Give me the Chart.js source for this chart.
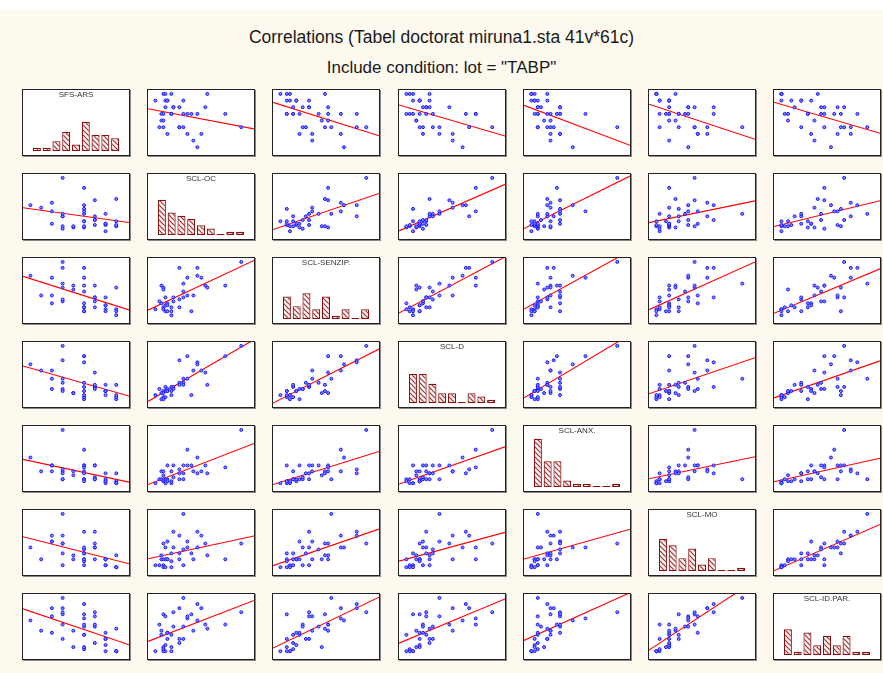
<!DOCTYPE html>
<html>
<head>
<meta charset="utf-8">
<script src="https://cdn.jsdelivr.net/npm/chart.js@4.4.0/dist/chart.umd.min.js"></script>
<style>
  body { margin: 0; width: 883px; height: 673px; overflow: hidden; position: relative;
         background: #fdf9ee; font-family: "Liberation Sans", Arial, sans-serif; }
  #topStrip { position: absolute; left: 0; top: 0; width: 883px; height: 10px; background: #fff; }
  .title { position: absolute; left: 0; width: 883px; text-align: center; font-size: 17px; color: #1a1a1a; }
  .cell { position: absolute; width: 106px; height: 65px; border: 1px solid #222;
          box-shadow: 1px 1px 0 #888; background: #fff; }
  .cell canvas { display: block; }
</style>
</head>
<body>
<div id="topStrip"></div>
<div class="title" style="top:27px; font-size:17.5px">Correlations (Tabel doctorat miruna1.sta 41v*61c)</div>
<div class="title" style="top:58px">Include condition: lot = "TABP"</div>
<div id="grid"></div>
<script>
// variable names, in matrix order
const varNames = ["SFS-ARS", "SCL-OC", "SCL-SENZIP.", "SCL-D", "SCL-ANX.", "SCL-MO", "SCL-ID.PAR."];

// raw scores for the 36 cases (lot = TABP)
const sfsArs    = [8,4,5,6,4,5,6,9,7,8,9,3,8,8,6,6,9,7,7,4,4,7,4,6,8,6,3,6,2,6,1,3,7,9,6,4];
const sclOc     = [0,2,3,3,4,4,4,4,5,5,5,6,6,6,8,8,8,9,9,12,12,12,14,14,14,16,16,18,19,21,21,23,25,26,35,43];
const sclSenzip = [3,7,15,6,14,13,4,3,9,5,2,6,5,2,4,2,0,9,7,24,8,4,16,12,9,19,10,2,10,24,20,19,15,14,15,27];
const sclD      = [2,5,3,0,4,3,1,0,6,4,1,5,4,4,6,4,2,6,5,19,8,7,10,8,7,21,10,2,14,18,17,14,13,7,21,26];
const sclAnx    = [0,2,6,2,6,4,2,1,2,1,0,9,2,1,6,1,0,9,3,7,5,2,2,9,5,17,9,9,6,5,13,6,9,5,8,27];
const sclMo     = [1,1,6,4,12,4,1,0,10,4,0,13,4,4,7,3,0,18,10,16,7,4,27,9,1,10,13,7,4,18,10,16,12,6,4,12];
const sclIdPar  = [0,13,10,8,18,2,1,0,17,3,0,9,9,6,8,2,0,19,12,21,6,4,26,12,6,16,17,18,10,23,15,21,13,11,13,19];

// histogram counts on the diagonal (9 bins each)
const binLabels     = ["1","2","3","4","5","6","7","8","9"];
const histSfsArs    = [1,1,3,6,2,9,5,5,4];
const histSclOc     = [11,7,6,5,3,2,0,1,1];
const histSclSenzip = [7,4,8,3,7,1,3,0,3];
const histSclD      = [9,9,6,3,3,0,3,2,1];
const histSclAnx    = [15,8,8,2,1,1,0,0,1];
const histSclMo     = [10,8,4,7,2,4,0,0,1];
const histSclIdPar  = [8,1,7,3,6,3,6,1,1];

const variables = [sfsArs, sclOc, sclSenzip, sclD, sclAnx, sclMo, sclIdPar];
const histograms = [histSfsArs, histSclOc, histSclSenzip, histSclD, histSclAnx, histSclMo, histSclIdPar];

function xRange(v) {
  const mn = Math.min(...v), mx = Math.max(...v), s = mx - mn;
  return [mn - s * 0.07 / 0.81, mx + s * 0.12 / 0.81];
}
function yRange(v) {
  const mn = Math.min(...v), mx = Math.max(...v), s = mx - mn;
  return [mn - s * 0.12 / 0.82, mx + s * 0.06 / 0.82];
}

// least squares y = a + b*x
function fitLine(xs, ys) {
  const n = xs.length;
  const mx = xs.reduce((a, b) => a + b, 0) / n;
  const my = ys.reduce((a, b) => a + b, 0) / n;
  let sxy = 0, sxx = 0;
  for (let i = 0; i < n; i++) { sxy += (xs[i] - mx) * (ys[i] - my); sxx += (xs[i] - mx) ** 2; }
  const b = sxy / sxx;
  return { a: my - b * mx, b: b };
}

// diagonal hatch for the histogram bars
function makeHatch() {
  const c = document.createElement('canvas');
  c.width = 5; c.height = 5;
  const g = c.getContext('2d');
  g.fillStyle = '#fff8f8';
  g.fillRect(0, 0, 5, 5);
  g.strokeStyle = '#a03030';
  g.lineWidth = 1.2;
  g.beginPath();
  g.moveTo(-1, -1); g.lineTo(6, 6);
  g.moveTo(-1, 4); g.lineTo(1, 6);
  g.moveTo(4, -1); g.lineTo(6, 1);
  g.stroke();
  return g.createPattern(c, 'repeat');
}
const hatch = makeHatch();

const nameLabel = {
  id: 'nameLabel',
  afterDraw(chart, args, opts) {
    const ctx = chart.ctx;
    ctx.save();
    ctx.font = '8px "Liberation Sans", Arial, sans-serif';
    ctx.fillStyle = '#333';
    ctx.textAlign = 'center';
    ctx.textBaseline = 'top';
    ctx.fillText(opts.text, chart.width / 2, 1);
    ctx.restore();
  }
};

Chart.defaults.font.family = '"Liberation Sans", Arial, sans-serif';

const grid = document.getElementById('grid');
const n = variables.length;

for (let r = 0; r < n; r++) {
  for (let c = 0; c < n; c++) {
    const cell = document.createElement('div');
    cell.className = 'cell';
    cell.style.left = Math.round(22 + c * 125.2) + 'px';
    cell.style.top = Math.round(89 + r * 84) + 'px';
    const canvas = document.createElement('canvas');
    canvas.width = 106; canvas.height = 65;
    cell.appendChild(canvas);
    grid.appendChild(cell);

    const base = {
      animation: false, responsive: false, devicePixelRatio: 1, events: [],
      plugins: { legend: { display: false }, tooltip: { enabled: false } }
    };

    if (r === c) {
      new Chart(canvas, {
        type: 'bar',
        data: {
          labels: binLabels,
          datasets: [{
            data: histograms[r],
            backgroundColor: hatch,
            borderColor: '#8b1010',
            borderWidth: 1.2,
            borderSkipped: false,
            minBarLength: 1,
            barPercentage: 0.82,
            categoryPercentage: 1
          }]
        },
        options: Object.assign({}, base, {
          layout: { autoPadding: false, padding: { left: 9, right: 9, top: 0, bottom: 4 } },
          scales: {
            x: { display: false },
            y: { display: false, min: 0, max: 19 }
          },
          plugins: Object.assign({}, base.plugins, { nameLabel: { text: varNames[r] } })
        }),
        plugins: [nameLabel]
      });
    } else {
      const xs = variables[c], ys = variables[r];
      const [x0, x1] = xRange(xs);
      const [y0, y1] = yRange(ys);
      const fit = fitLine(xs, ys);
      new Chart(canvas, {
        type: 'scatter',
        data: {
          datasets: [{
            data: xs.map((x, i) => ({ x: x, y: ys[i] })),
            pointRadius: 1.5,
            borderWidth: 1,
            borderColor: '#1a1aff',
            backgroundColor: '#8888ff',
            clip: false
          }, {
            data: [{ x: x0, y: fit.a + fit.b * x0 }, { x: x1, y: fit.a + fit.b * x1 }],
            showLine: true,
            pointRadius: 0,
            borderColor: '#ff0000',
            borderWidth: 1.1,
            clip: 0
          }]
        },
        options: Object.assign({}, base, {
          layout: { autoPadding: false, padding: 0 },
          scales: {
            x: { type: 'linear', display: false, min: x0, max: x1 },
            y: { type: 'linear', display: false, min: y0, max: y1 }
          }
        })
      });
    }
  }
}
</script>
</body>
</html>
